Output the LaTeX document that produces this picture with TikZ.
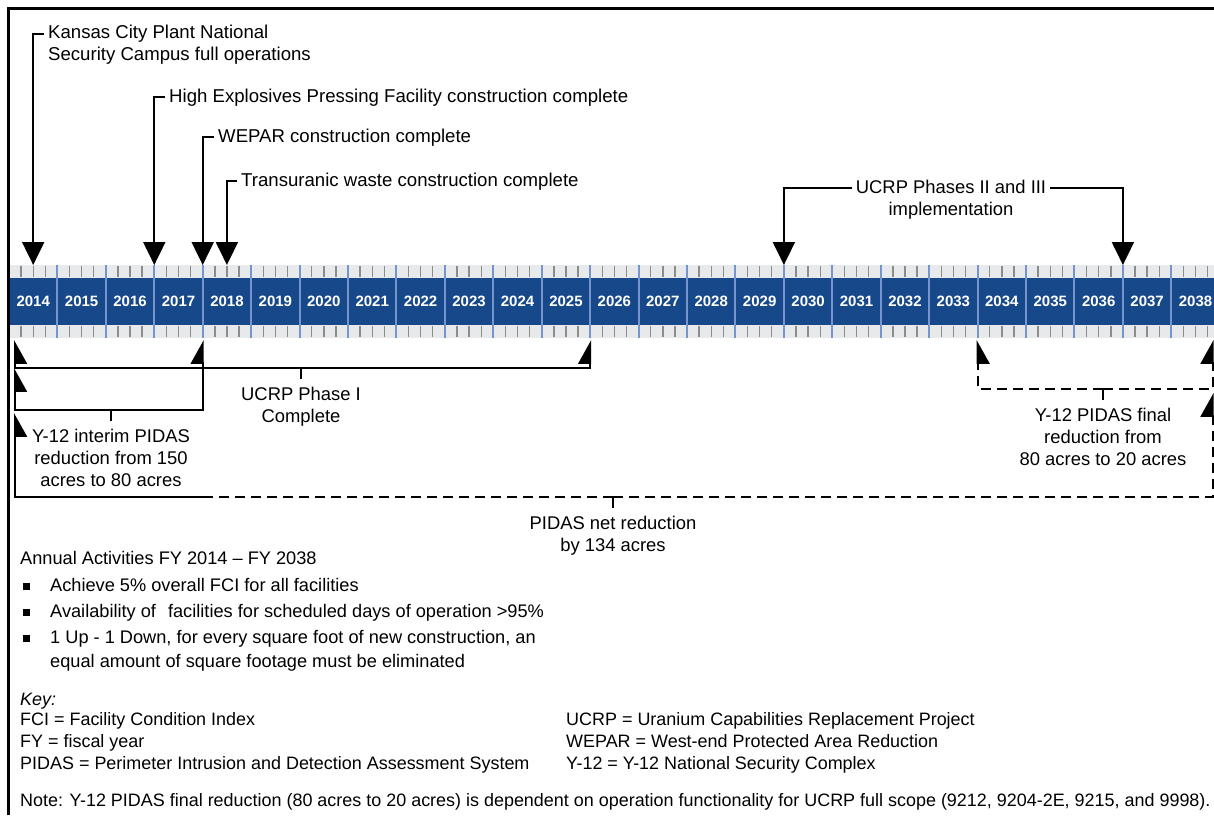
\documentclass[tikz,border=0pt]{standalone}
\usepackage{fontspec}
\setmainfont{Liberation Sans}
\usetikzlibrary{arrows.meta}

\definecolor{yeardark}{RGB}{23, 72, 138}
\definecolor{yearsep}{RGB}{118, 148, 206}
\definecolor{bandlight}{RGB}{232, 233, 235}
\definecolor{tickgray}{RGB}{140, 140, 140}

\begin{document}
\begin{tikzpicture}[x=1pt, y=-1pt,
    lbl/.style={font=\fontsize{18.2}{22}\selectfont, inner sep=0pt},
    keytxt/.style={font=\fontsize{17.95}{22}\selectfont, inner sep=0pt},
    callout/.style={font=\fontsize{18.6}{22}\selectfont, inner sep=4pt},
    brlbl/.style={font=\fontsize{18.4}{22}\selectfont, inner sep=4pt},
    yearlbl/.style={font=\fontsize{15}{18}\selectfont\bfseries, text=white},
    conn/.style={line width=2pt},
    downarrow/.style={conn, -{Triangle[length=23pt, width=22pt]}},
    upeast/.style={conn, -{Stealth[inset=0pt, length=22pt, width=24pt, right]}},
    upwest/.style={conn, -{Stealth[inset=0pt, length=22pt, width=24pt, left]}},
    future/.style={dash pattern=on 10pt off 6pt},
]

    \useasboundingbox (0,0) rectangle (1214,815);

    % ==========================================
    % --- Frame ---
    % ==========================================
    \draw[line width=3pt] (8.3,815) -- (8.3,8.3) -- (1214,8.3);

    % ==========================================
    % --- Year band 2014 -- 2038 ---
    % ==========================================
    \fill[bandlight] (9.8,265) rectangle (1214,338);
    \fill[yeardark] (9.8,278) rectangle (1214,325);

    % Quarter ticks
    \foreach \i in {0,...,24} {
        \foreach \q in {1,2,3} {
            \draw[tickgray, line width=1.4pt] ({9+48.43*(\i+\q/4)},266) -- ++(0,11);
            \draw[tickgray, line width=1.4pt] ({9+48.43*(\i+\q/4)},326) -- ++(0,11);
        }
    }

    % Year separators
    \foreach \i in {1,...,24}
        \draw[yearsep, line width=2pt] ({9+48.43*\i},265) -- ({9+48.43*\i},338);

    % Year labels
    \foreach \i [evaluate=\i as \yr using int(2014+\i)] in {0,...,24}
        \node[yearlbl] (y\yr) at ({9+48.43*(\i+0.5)},301.5) {\yr};

    % Arrow tips on the band
    \coordinate (kcpTip) at (33.2,265);
    \coordinate (hepfTip) at (154.3,265);
    \coordinate (weparTip) at (202.7,265);
    \coordinate (truwTip) at (226.9,265);
    \coordinate (ucrpTipA) at (783.9,265);
    \coordinate (ucrpTipB) at (1122.9,265);

    \coordinate (ph1L) at (15,340);
    \coordinate (ph1R) at (590.2,340);
    \coordinate (y12iL) at (15,368);
    \coordinate (y12iR) at (202.7,340);
    \coordinate (pnetL) at (15,413);
    \coordinate (pnetR) at (1212.5,393);
    \coordinate (pfinL) at (977.6,340);
    \coordinate (pfinR) at (1212.5,340);

    % ==========================================
    % --- Milestones above the band ---
    % ==========================================
    \node[callout, anchor=west, align=left] (kcp) at (44,45) {Kansas City Plant National\\Security Campus full operations};
    \draw[downarrow] ([yshift=11.5pt]kcp.west) -| (kcpTip);

    \node[callout, anchor=base west] (hepf) at (165,102) {High Explosives Pressing Facility construction complete};
    \draw[downarrow] ([yshift=5.5pt]hepf.base west) -| (hepfTip);

    \node[callout, anchor=base west] (wepar) at (214,142.7) {WEPAR construction complete};
    \draw[downarrow] ([yshift=5.5pt]wepar.base west) -| (weparTip);

    \node[callout, anchor=base west] (truw) at (237,186.7) {Transuranic waste construction complete};
    \draw[downarrow] ([yshift=5.5pt]truw.base west) -| (truwTip);

    \node[brlbl, align=center] (ucrp) at (951,199.5) {UCRP Phases II and III\\implementation};
    \draw[downarrow] ([yshift=11.5pt]ucrp.west) -| (ucrpTipA);
    \draw[downarrow] ([yshift=11.5pt]ucrp.east) -| (ucrpTipB);

    % ==========================================
    % --- Brackets below the band ---
    % ==========================================
    % UCRP Phase I
    \node[brlbl, align=center, anchor=north] (ph1) at (301,383) {UCRP Phase I\\Complete};
    \draw[conn] (ph1.north) ++(0,-4) -- ++(0,-11) coordinate (ph1m);
    \draw[upeast] (ph1m) -| (ph1L);
    \draw[upwest] (ph1m) -| (ph1R);

    % Interim reduction
    \node[brlbl, align=center, anchor=north] (y12i) at (111,425) {Y-12 interim PIDAS\\reduction from 150\\acres to 80 acres};
    \draw[conn] (y12i.north) ++(0,-4) -- ++(0,-11) coordinate (y12im);
    \draw[upeast] (y12im) -| (y12iL);
    \draw[upwest] (y12im) -| (y12iR);

    % Final reduction (planned)
    \node[brlbl, align=center, anchor=north] (pfin) at (1103,404) {Y-12 PIDAS final\\reduction from\\80 acres to 20 acres};
    \draw[conn] (pfin.north) ++(0,-4) -- ++(0,-11) coordinate (pfinm);
    \draw[upeast, future] (pfinm) -| (pfinL);
    \draw[upwest, future] (pfinm) -| (pfinR);

    % Net reduction
    \node[brlbl, align=center, anchor=north] (pnet) at (613,512) {PIDAS net reduction\\by 134 acres};
    \draw[conn] (pnet.north) ++(0,-4) -- ++(0,-11) coordinate (pnetm);
    \draw[conn, future] (pnetm) -- (pnetm -| y12iR);
    \draw[upeast] (pnetm -| y12iR) -| (pnetL);
    \draw[upwest, future] (pnetm) -| (pnetR);

    % ==========================================
    % --- Annual activities and key ---
    % ==========================================
    \node[lbl, anchor=base west] (annual) at (20,564) {Annual Activities FY 2014 -- FY 2038};
    \foreach \by in {586,612,638}
        \fill (22.5,\by-3.5) rectangle ++(7,7);
    \node[lbl, anchor=base west] (act1) at (50,591) {Achieve 5\% overall FCI for all facilities};
    \node[lbl, anchor=base west] (act2) at (50,617) {Availability of\hspace{12pt}facilities for scheduled days of operation >95\%};
    \node[lbl, anchor=north west, align=left, font=\fontsize{18.2}{24}\selectfont] (act3) at (50,629.7) {1 Up - 1 Down, for every square foot of new construction, an\\equal amount of square footage must be eliminated};

    \node[keytxt, anchor=base west, font=\fontsize{17.95}{22}\selectfont\itshape] (keyhd) at (20,705) {Key:};
    \node[keytxt, anchor=north west, align=left] (keyl) at (20,712.7) {FCI = Facility Condition Index\\FY = fiscal year\\PIDAS = Perimeter Intrusion and Detection Assessment System};
    \node[keytxt, anchor=north west, align=left] (keyr) at (566,712.7) {UCRP = Uranium Capabilities Replacement Project\\WEPAR = West-end Protected Area Reduction\\Y-12 = Y-12 National Security Complex};

    \node[keytxt, anchor=base west] (note) at (20,806) {Note: Y-12 PIDAS final reduction (80 acres to 20 acres) is dependent on operation functionality for UCRP full scope (9212, 9204-2E, 9215, and 9998).};

\end{tikzpicture}
\end{document}
